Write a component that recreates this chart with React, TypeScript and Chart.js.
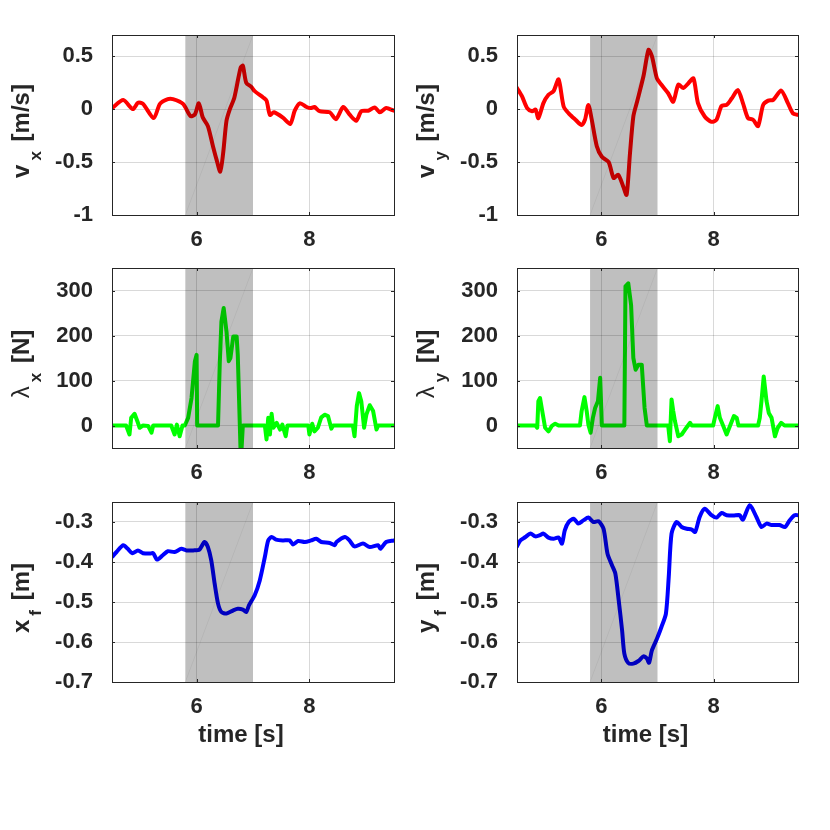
import React, { useEffect, useRef } from 'react';
import { Chart, registerables } from 'chart.js';

Chart.register(...registerables);

// shared x axis
const xMin = 4.5;
const xMax = 9.5;
const xTicks = [6, 8];
const shadeStart = 5.8;
const shadeEnd = 7.0;

// v_x [m/s]
const vxTime = [4.5, 4.7, 4.87, 4.96, 5.05, 5.24, 5.35, 5.49, 5.58, 5.76, 5.89, 5.97, 6.04, 6.11, 6.2, 6.29, 6.35, 6.42, 6.47, 6.53, 6.59, 6.67, 6.78, 6.82, 6.88, 6.97, 7.03, 7.18, 7.24, 7.3, 7.37, 7.53, 7.66, 7.74, 7.83, 7.95, 8.02, 8.09, 8.18, 8.36, 8.47, 8.6, 8.71, 8.83, 8.92, 9.04, 9.16, 9.25, 9.36, 9.5];
const vxVals = [0.01, 0.085, 0.0, 0.06, 0.05, -0.085, 0.05, 0.095, 0.095, 0.05, -0.065, -0.05, 0.055, -0.08, -0.16, -0.35, -0.47, -0.59, -0.42, -0.11, 0.0, 0.11, 0.39, 0.41, 0.25, 0.21, 0.17, 0.11, 0.08, -0.055, -0.03, -0.08, -0.14, -0.015, 0.055, 0.02, 0.01, 0.02, -0.02, -0.03, -0.095, 0.02, -0.05, -0.11, -0.02, -0.015, 0.015, -0.03, 0.01, -0.015];

// v_y [m/s]
const vyTime = [4.5, 4.59, 4.68, 4.77, 4.83, 4.88, 4.97, 5.06, 5.15, 5.24, 5.33, 5.42, 5.54, 5.65, 5.71, 5.77, 5.83, 5.92, 6.01, 6.13, 6.22, 6.3, 6.39, 6.45, 6.51, 6.57, 6.63, 6.75, 6.84, 6.9, 6.99, 7.07, 7.19, 7.28, 7.37, 7.46, 7.55, 7.64, 7.72, 7.84, 7.96, 8.05, 8.14, 8.23, 8.32, 8.43, 8.52, 8.61, 8.7, 8.79, 8.88, 8.97, 9.06, 9.2, 9.32, 9.41, 9.5];
const vyVals = [0.2, 0.12, 0.01, -0.02, -0.005, -0.085, 0.057, 0.135, 0.17, 0.28, 0.025, -0.04, -0.1, -0.15, -0.1, 0.04, -0.1, -0.35, -0.45, -0.5, -0.65, -0.62, -0.73, -0.81, -0.42, -0.07, 0.057, 0.31, 0.56, 0.5, 0.29, 0.23, 0.15, 0.07, 0.23, 0.2, 0.245, 0.29, 0.057, -0.07, -0.12, -0.1, 0.03, 0.04, 0.1, 0.18, 0.057, -0.085, -0.1, -0.16, 0.04, 0.08, 0.088, 0.175, 0.057, -0.04, -0.055];

// lambda_x [N]
const lxTime = [4.5, 4.75, 4.81, 4.84, 4.9, 4.96, 4.99, 5.05, 5.14, 5.2, 5.23, 5.55, 5.61, 5.65, 5.7, 5.75, 5.79, 5.85, 5.91, 5.97, 6.0, 6.01, 6.38, 6.41, 6.44, 6.48, 6.53, 6.57, 6.6, 6.65, 6.71, 6.73, 6.785, 6.82, 7.21, 7.24, 7.27, 7.3, 7.33, 7.36, 7.42, 7.48, 7.52, 7.58, 7.61, 7.98, 8.0, 8.05, 8.09, 8.15, 8.21, 8.27, 8.33, 8.39, 8.42, 8.77, 8.8, 8.84, 8.88, 8.92, 8.97, 9.01, 9.07, 9.13, 9.19, 9.22, 9.5];
const lxVals = [0, 0, -20, 17, 26, 6, -5, 0, -1, -16, 0, 0, -20, 2, -24, 0, 0, 17, 61, 143, 157, 0, 0, 135, 231, 261, 209, 143, 150, 198, 198, 157, -80, 0, 0, -31, 17, -20, 26, -5, 6, -9, 2, -24, 0, 0, -20, 4, -13, -5, 18, 24, 21, -7, 0, 0, -24, 43, 72, 54, -5, 24, 45, 32, -9, 0, 0];

// lambda_y [N]
const lyTime = [4.5, 4.83, 4.86, 4.88, 4.91, 4.96, 5.0, 5.06, 5.12, 5.18, 5.24, 5.62, 5.65, 5.7, 5.74, 5.77, 5.81, 5.85, 5.89, 5.94, 5.98, 6.01, 6.41, 6.43, 6.48, 6.53, 6.57, 6.61, 6.66, 6.72, 6.77, 6.81, 7.19, 7.22, 7.25, 7.28, 7.31, 7.37, 7.43, 7.49, 7.58, 7.61, 7.99, 8.02, 8.07, 8.11, 8.17, 8.23, 8.3, 8.36, 8.41, 8.44, 8.79, 8.82, 8.85, 8.89, 8.94, 8.98, 9.03, 9.09, 9.14, 9.2, 9.26, 9.5];
const lyVals = [0, 0, -5, 54, 61, 24, -5, -13, -1, 4, 0, 0, 32, 63, 32, 2, -16, 17, 39, 54, 106, 0, 0, 309, 316, 268, 150, 124, 135, 135, 39, 0, 0, -35, 58, 32, 10, -24, -20, -9, 6, 0, 0, 17, 43, 17, -1, -20, 2, 21, 17, 0, 0, 17, 54, 109, 54, 28, 17, -24, -5, 6, 0, 0];

// x_f [m]
const xfTime = [4.5, 4.58, 4.7, 4.78, 4.86, 4.96, 5.05, 5.17, 5.23, 5.3, 5.4, 5.49, 5.61, 5.73, 5.82, 5.94, 6.05, 6.14, 6.2, 6.26, 6.32, 6.38, 6.44, 6.53, 6.65, 6.73, 6.82, 6.88, 6.93, 7.03, 7.12, 7.21, 7.27, 7.33, 7.41, 7.53, 7.65, 7.71, 7.8, 7.92, 8.03, 8.12, 8.21, 8.36, 8.45, 8.48, 8.63, 8.71, 8.8, 8.95, 9.07, 9.22, 9.26, 9.36, 9.5];
const xfVals = [-0.3875, -0.375, -0.358, -0.367, -0.378, -0.371, -0.378, -0.379, -0.378, -0.394, -0.383, -0.373, -0.375, -0.367, -0.371, -0.371, -0.369, -0.35, -0.3625, -0.396, -0.454, -0.504, -0.525, -0.529, -0.521, -0.517, -0.519, -0.525, -0.508, -0.483, -0.446, -0.3875, -0.346, -0.3375, -0.344, -0.346, -0.346, -0.356, -0.3475, -0.35, -0.346, -0.342, -0.35, -0.3525, -0.358, -0.35, -0.3375, -0.346, -0.361, -0.354, -0.3625, -0.358, -0.367, -0.35, -0.346];

// y_f [m]
const yfTime = [4.5, 4.56, 4.65, 4.74, 4.83, 4.91, 4.97, 5.06, 5.15, 5.24, 5.3, 5.35, 5.42, 5.51, 5.59, 5.68, 5.77, 5.86, 5.95, 6.04, 6.11, 6.19, 6.25, 6.31, 6.37, 6.41, 6.48, 6.57, 6.66, 6.75, 6.81, 6.85, 6.9, 6.99, 7.07, 7.15, 7.2, 7.25, 7.34, 7.43, 7.52, 7.61, 7.67, 7.75, 7.84, 7.96, 8.05, 8.14, 8.23, 8.35, 8.46, 8.52, 8.64, 8.76, 8.85, 8.94, 9.03, 9.17, 9.27, 9.35, 9.44, 9.5];
const yfVals = [-0.361, -0.346, -0.3375, -0.329, -0.336, -0.333, -0.329, -0.339, -0.342, -0.339, -0.354, -0.321, -0.3, -0.292, -0.304, -0.296, -0.289, -0.3, -0.298, -0.317, -0.379, -0.408, -0.429, -0.496, -0.571, -0.629, -0.6525, -0.654, -0.6475, -0.636, -0.641, -0.652, -0.621, -0.592, -0.5625, -0.529, -0.4375, -0.329, -0.3, -0.3125, -0.317, -0.319, -0.325, -0.2875, -0.267, -0.283, -0.289, -0.2775, -0.283, -0.284, -0.283, -0.294, -0.258, -0.2875, -0.3125, -0.304, -0.3075, -0.3075, -0.3125, -0.296, -0.283, -0.283];

// y axis limits and ticks per row
const velRange = [-1, 0.7];
const velTicks = [-1, -0.5, 0, 0.5];
const forceRange = [-50, 350];
const forceTicks = [0, 100, 200, 300];
const posRange = [-0.7, -0.25];
const posTicks = [-0.7, -0.6, -0.5, -0.4, -0.3];

const FONT = '"Liberation Sans", Arial, Helvetica, sans-serif';
const INK = '#262626';

type Part = { t: string; sub?: boolean; thin?: boolean };

interface PanelCfg {
  time: number[];
  vals: number[];
  range: number[];
  ticks: number[];
  color: string;
  label: Part[];
  showTime: boolean;
  left: number;
  top: number;
  width: number;
  tension: number;
}

const colLeft = [112, 517];
const colWidth = [282, 281];
const rowTop = [35, 268, 502];
const plotH = 180;

const panels: PanelCfg[] = [
  { time: vxTime, vals: vxVals, range: velRange, ticks: velTicks, color: '#ff0000', label: [{ t: 'v' }, { t: 'x', sub: true }, { t: ' [m/s]' }], showTime: false, left: colLeft[0], top: rowTop[0], width: colWidth[0], tension: 0.25 },
  { time: vyTime, vals: vyVals, range: velRange, ticks: velTicks, color: '#ff0000', label: [{ t: 'v' }, { t: 'y', sub: true }, { t: ' [m/s]' }], showTime: false, left: colLeft[1], top: rowTop[0], width: colWidth[1], tension: 0.25 },
  { time: lxTime, vals: lxVals, range: forceRange, ticks: forceTicks, color: '#00ff00', label: [{ t: 'λ', thin: true }, { t: 'x', sub: true }, { t: ' [N]' }], showTime: false, left: colLeft[0], top: rowTop[1], width: colWidth[0], tension: 0 },
  { time: lyTime, vals: lyVals, range: forceRange, ticks: forceTicks, color: '#00ff00', label: [{ t: 'λ', thin: true }, { t: 'y', sub: true }, { t: ' [N]' }], showTime: false, left: colLeft[1], top: rowTop[1], width: colWidth[1], tension: 0 },
  { time: xfTime, vals: xfVals, range: posRange, ticks: posTicks, color: '#0000ff', label: [{ t: 'x' }, { t: 'f', sub: true }, { t: ' [m]' }], showTime: true, left: colLeft[0], top: rowTop[2], width: colWidth[0], tension: 0.25 },
  { time: yfTime, vals: yfVals, range: posRange, ticks: posTicks, color: '#0000ff', label: [{ t: 'y' }, { t: 'f', sub: true }, { t: ' [m]' }], showTime: true, left: colLeft[1], top: rowTop[2], width: colWidth[1], tension: 0.25 },
];

const AXIS_W = 110;
const AXIS_H = 70;
const PAD = 12;

const partFont = (p: Part) =>
  p.sub ? `bold 17px ${FONT}` : p.thin ? `normal 24px ${FONT}` : `bold 24px ${FONT}`;

const decorPlugin = {
  id: 'panelDecor',
  afterDatasetsDraw(chart: any) {
    const { ctx, chartArea } = chart;
    const x = chart.scales.x;
    const x0 = x.getPixelForValue(shadeStart);
    const x1 = x.getPixelForValue(shadeEnd);
    ctx.save();
    ctx.fillStyle = 'rgba(0,0,0,0.25)';
    ctx.fillRect(x0, chartArea.top, x1 - x0, chartArea.bottom - chartArea.top);
    ctx.restore();
  },
  afterDraw(chart: any, _args: any, opts: any) {
    const { ctx, chartArea } = chart;
    const { left, right, top, bottom } = chartArea;
    ctx.save();
    // box
    ctx.strokeStyle = INK;
    ctx.lineWidth = 1;
    ctx.strokeRect(Math.round(left) + 0.5, Math.round(top) + 0.5, Math.round(right - left), Math.round(bottom - top));
    // inner tick marks
    const tl = 3;
    ctx.beginPath();
    chart.scales.x.ticks.forEach((t: any) => {
      const px = Math.round(chart.scales.x.getPixelForValue(t.value)) + 0.5;
      ctx.moveTo(px, bottom); ctx.lineTo(px, bottom - tl);
      ctx.moveTo(px, top); ctx.lineTo(px, top + tl);
    });
    chart.scales.y.ticks.forEach((t: any) => {
      const py = Math.round(chart.scales.y.getPixelForValue(t.value)) + 0.5;
      ctx.moveTo(left, py); ctx.lineTo(left + tl, py);
      ctx.moveTo(right, py); ctx.lineTo(right - tl, py);
    });
    ctx.stroke();

    // rotated y label with subscript
    const parts: Part[] = opts.label || [];
    const widths = parts.map((p) => { ctx.font = partFont(p); return ctx.measureText(p.t).width; });
    const gap = (p: Part, i: number) => (i === 0 ? 4 : p.sub ? 3 : 0);
    const total = parts.reduce((a, p, i) => a + widths[i] + gap(p, i), 0);
    ctx.translate(left - 83, (top + bottom) / 2 + 6);
    ctx.rotate(-Math.PI / 2);
    ctx.fillStyle = INK;
    ctx.textBaseline = 'alphabetic';
    ctx.textAlign = 'left';
    let cx = -total / 2;
    parts.forEach((p, i) => {
      ctx.font = partFont(p);
      ctx.fillText(p.t, cx, p.sub ? 12 : 0);
      cx += widths[i] + gap(p, i);
    });
    ctx.restore();

    if (opts.showTime) {
      ctx.save();
      ctx.font = `bold 24px ${FONT}`;
      ctx.fillStyle = INK;
      ctx.textAlign = 'center';
      ctx.textBaseline = 'alphabetic';
      ctx.fillText('time [s]', (left + right) / 2 - 12, bottom + 60);
      ctx.restore();
    }
  },
};

const Panel: React.FC<{ cfg: PanelCfg }> = ({ cfg }) => {
  const canvasRef = useRef<HTMLCanvasElement | null>(null);

  useEffect(() => {
    if (!canvasRef.current) return;
    const [yMin, yMax] = cfg.range;
    const chart = new Chart(canvasRef.current, {
      type: 'line',
      data: {
        datasets: [
          {
            data: [{ x: shadeStart, y: yMin }, { x: shadeEnd, y: yMax }],
            borderColor: 'rgba(0,0,0,0.07)',
            borderWidth: 0.8,
            pointRadius: 0,
          },
          {
            data: cfg.time.map((t, i) => ({ x: t, y: cfg.vals[i] })),
            borderColor: cfg.color,
            borderWidth: 4,
            pointRadius: 0,
            tension: cfg.tension,
            borderJoinStyle: 'round',
            borderCapStyle: 'round',
          },
        ],
      },
      options: {
        animation: false,
        responsive: true,
        maintainAspectRatio: false,
        layout: { padding: { top: PAD, right: PAD, left: 0, bottom: 0 } },
        plugins: {
          legend: { display: false },
          tooltip: { enabled: false },
          panelDecor: { label: cfg.label, showTime: cfg.showTime },
        } as any,
        scales: {
          x: {
            type: 'linear',
            min: xMin,
            max: xMax,
            afterBuildTicks: (s: any) => { s.ticks = xTicks.map((v) => ({ value: v })); },
            afterFit: (s: any) => { s.height = AXIS_H; s.paddingLeft = 0; s.paddingRight = 0; },
            grid: { color: 'rgba(0,0,0,0.15)', drawTicks: false },
            border: { display: false },
            ticks: {
              padding: 12,
              color: INK,
              font: { family: FONT, size: 22, weight: 'bold' },
              callback: (v: any) => String(v),
            },
          },
          y: {
            type: 'linear',
            min: yMin,
            max: yMax,
            afterBuildTicks: (s: any) => { s.ticks = cfg.ticks.map((v) => ({ value: v })); },
            afterFit: (s: any) => { s.width = AXIS_W; s.paddingTop = 0; s.paddingBottom = 0; },
            grid: { color: 'rgba(0,0,0,0.15)', drawTicks: false },
            border: { display: false },
            ticks: {
              padding: 19,
              color: INK,
              font: { family: FONT, size: 22, weight: 'bold' },
              callback: (v: any) => String(v),
            },
          },
        },
      },
      plugins: [decorPlugin],
    });
    return () => chart.destroy();
  }, [cfg]);

  return (
    <div
      style={{
        position: 'absolute',
        left: cfg.left - AXIS_W,
        top: cfg.top - PAD,
        width: cfg.width + AXIS_W + PAD,
        height: plotH + PAD + AXIS_H,
      }}
    >
      <canvas ref={canvasRef} />
    </div>
  );
};

export default function App() {
  return (
    <div style={{ position: 'absolute', left: 0, top: 0, width: 830, height: 830, background: '#fff' }}>
      {panels.map((p, i) => (
        <Panel key={i} cfg={p} />
      ))}
    </div>
  );
}
